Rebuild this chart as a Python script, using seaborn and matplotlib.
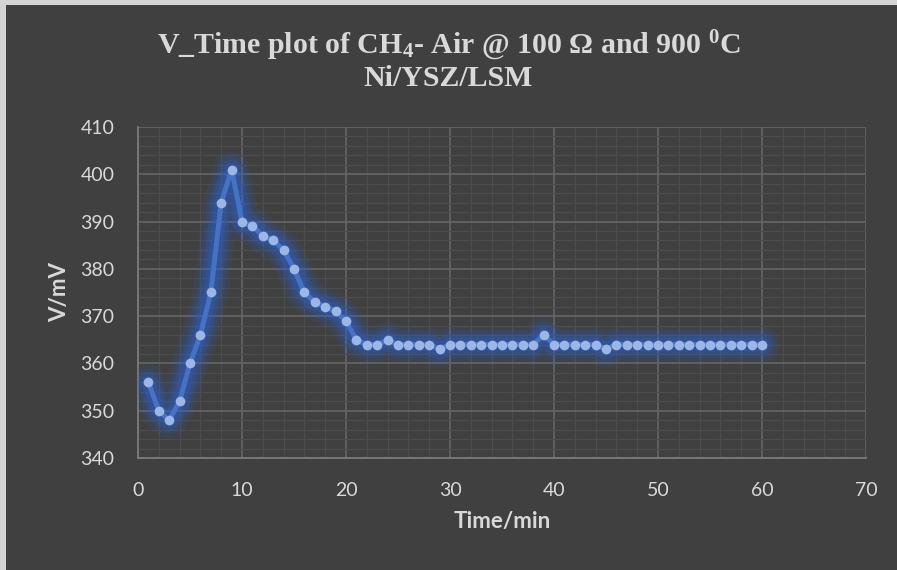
import numpy as np
import pandas as pd
import matplotlib
matplotlib.use("Agg")
import matplotlib.pyplot as plt
import seaborn as sns
from matplotlib.patches import Rectangle
from matplotlib.ticker import MultipleLocator

# Cell voltage readings, one per minute
time_min = list(range(1, 61))
voltage_mv = [356, 350, 348, 352, 360, 366, 375, 394, 401, 390,
              389, 387, 386, 384, 380, 375, 373, 372, 371, 369,
              365, 364, 364, 365, 364, 364, 364, 364, 363, 364,
              364, 364, 364, 364, 364, 364, 364, 364, 366, 364,
              364, 364, 364, 364, 363, 364, 364, 364, 364, 364,
              364, 364, 364, 364, 364, 364, 364, 364, 364, 364]

x_ticks = [0, 10, 20, 30, 40, 50, 60, 70]
y_ticks = [340, 350, 360, 370, 380, 390, 400, 410]

title_line1 = "V_Time plot of CH$_4$- Air @ 100 Ω and 900 $^0$C"
title_line2 = "Ni/YSZ/LSM"
x_label = "Time/min"
y_label = "V/mV"

df = pd.DataFrame({"t": time_min, "v": voltage_mv})

sns.set_theme(style="dark")
plt.rcParams["mathtext.default"] = "regular"

BG = "#404040"
TXT = "#d9d9d9"
LINE = "#4472C4"
GLOW = "#2a62d8"

fig = plt.figure(figsize=(8.97, 5.70), dpi=100, facecolor="#d4d4d4")
panel = Rectangle((6 / 897, 0), 1, 1 - 5 / 570, transform=fig.transFigure,
                  facecolor=BG, edgecolor="none", zorder=-10)
fig.patches.append(panel)

ax = fig.add_axes([138 / 897, 1 - 458 / 570, (866 - 138) / 897, (458 - 127) / 570])
ax.set_facecolor(BG)
ax.set_zorder(1)

# soft glow under the series
for lw, a in [(26, 0.10), (20, 0.15), (15, 0.20), (10, 0.28)]:
    sns.lineplot(data=df, x="t", y="v", ax=ax, color=GLOW, linewidth=lw,
                 alpha=a, solid_capstyle="round", solid_joinstyle="round",
                 legend=False, zorder=3)
sns.lineplot(data=df, x="t", y="v", ax=ax, color=LINE, linewidth=3.6,
             solid_joinstyle="round", legend=False, zorder=4,
             marker="o", markersize=7, markerfacecolor="#9cb6e6",
             markeredgecolor="#9cb6e6", markeredgewidth=0)

ax.set_xlim(0, 70)
ax.set_ylim(340, 410)
ax.set_xticks(x_ticks)
ax.set_yticks(y_ticks)
ax.xaxis.set_minor_locator(MultipleLocator(2))
ax.yaxis.set_minor_locator(MultipleLocator(2))
ax.grid(which="major", color="#636363", linewidth=1.3, zorder=1)
ax.grid(which="minor", color="#4d4d4d", linewidth=0.9, zorder=1)
ax.set_axisbelow(True)

for side in ["top", "right"]:
    ax.spines[side].set_visible(False)
for side in ["left", "bottom"]:
    ax.spines[side].set_visible(True)
    ax.spines[side].set_color("#7a7a7a")
    ax.spines[side].set_linewidth(1.3)

tick_font = ["Lato", "DejaVu Sans"]
ax.tick_params(axis="both", which="both", length=0, colors=TXT, labelsize=14)
ax.tick_params(axis="y", pad=17)
ax.tick_params(axis="x", pad=17)
for lab in ax.get_xticklabels() + ax.get_yticklabels():
    lab.set_family(tick_font)

ax.set_xlabel(x_label, fontsize=16, fontweight="bold", color=TXT,
              family=tick_font, labelpad=9)
ax.set_ylabel(y_label, fontsize=16, fontweight="bold", color=TXT,
              family=tick_font, labelpad=7)

title_font = ["Liberation Serif", "DejaVu Serif"]
fig.text(0.5, 1 - 46 / 570, title_line1, ha="center", va="center",
         fontsize=21.5, fontweight="bold", color=TXT, family=title_font)
fig.text(0.5, 1 - 78 / 570, title_line2, ha="center", va="center",
         fontsize=21.5, fontweight="bold", color=TXT, family=title_font)

fig.savefig("out.png", dpi=100, facecolor=fig.get_facecolor())
